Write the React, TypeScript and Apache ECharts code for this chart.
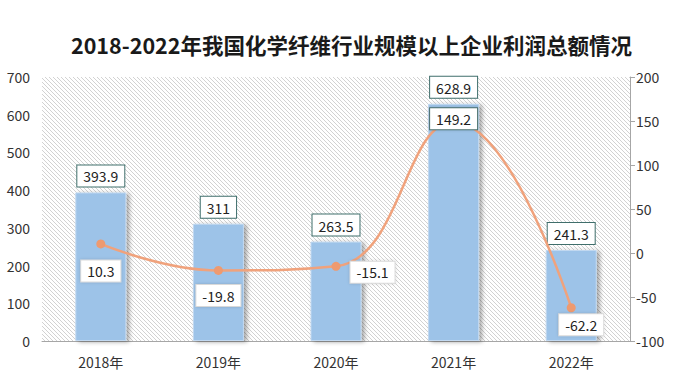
import React, { useEffect, useRef } from "react";
import * as echarts from "echarts";

const titleText = "2018-2022年我国化学纤维行业规模以上企业利润总额情况";
const categories = ["2018年", "2019年", "2020年", "2021年", "2022年"];
const profitValues = [393.9, 311, 263.5, 628.9, 241.3];
const growthValues = [10.3, -19.8, -15.1, 149.2, -62.2];
const leftTicks = { min: 0, max: 700, interval: 100 };
const rightTicks = { min: -100, max: 200, interval: 50 };

const FONT = '"Noto Sans CJK SC", "Noto Sans", sans-serif';

function makeHatch(): string {
  const c = document.createElement("canvas");
  const n = 4;
  c.width = n;
  c.height = n;
  const ctx = c.getContext("2d")!;
  ctx.fillStyle = "#ffffff";
  ctx.fillRect(0, 0, n, n);
  ctx.fillStyle = "#d2d2d2";
  for (let i = 0; i < n; i++) ctx.fillRect(i, i, 1, 1);
  return c.toDataURL();
}

export default function App() {
  const ref = useRef<HTMLDivElement>(null);
  useEffect(() => {
    if (!ref.current) return;
    const chart = echarts.init(ref.current, undefined, { renderer: "svg" });
    const hatch = makeHatch();
    const lineLabelPos: any[] = [
      { position: "bottom", distance: 12, offset: [0, 0] },
      { position: "bottom", distance: 10, offset: [0, 0] },
      { position: "right", distance: 10, offset: [0, 6] },
      { position: "inside", distance: 0, offset: [0, -3], borderColor: "#4a6f6c" },
      { position: "bottom", distance: 2, offset: [10, 0] },
    ];
    chart.setOption({
      animation: false,
      backgroundColor: "#ffffff",
      title: {
        text: titleText,
        left: 66,
        top: 29,
        textStyle: { fontFamily: FONT, fontSize: 21.5, fontWeight: "bold", color: "#1a1a1a" },
      },
      grid: {
        left: 42,
        right: 64,
        top: 77,
        bottom: 40,
        show: true,
        borderWidth: 0,
        backgroundColor: { image: hatch, repeat: "repeat", imageWidth: 4, imageHeight: 4 } as any,
      },
      xAxis: {
        type: "category",
        data: categories,
        axisLine: { lineStyle: { color: "#a6a6a6", width: 1 } },
        axisTick: { show: false },
        axisLabel: { margin: 14, fontFamily: FONT, fontSize: 14, color: "#333" },
      },
      yAxis: [
        {
          type: "value",
          ...leftTicks,
          axisLine: { show: false },
          axisTick: { show: false },
          splitLine: { show: false },
          axisLabel: { margin: 12, fontFamily: FONT, fontSize: 14, color: "#333" },
        },
        {
          type: "value",
          ...rightTicks,
          position: "right",
          axisLine: { show: true, lineStyle: { color: "#a6a6a6" } },
          axisTick: { show: true, length: 5, lineStyle: { color: "#a6a6a6" } },
          splitLine: { show: false },
          axisLabel: { margin: 6, fontFamily: FONT, fontSize: 14, color: "#333" },
        },
      ],
      series: [
        {
          type: "bar",
          yAxisIndex: 0,
          data: profitValues,
          barWidth: 51,
          itemStyle: {
            color: "#9dc3e8",
            borderColor: "#c2d9f1",
            borderWidth: 1,
            shadowColor: "rgba(0,0,0,0.35)",
            shadowBlur: 4,
            shadowOffsetX: 3,
            shadowOffsetY: 1,
          },
          label: {
            show: true,
            position: "top",
            distance: 6,
            fontFamily: FONT,
            fontSize: 14,
            color: "#222",
            backgroundColor: "#ffffff",
            borderColor: "#3f6e6b",
            borderWidth: 1,
            padding: [4, 6, 3, 6],
          },
        },
        {
          type: "line",
          yAxisIndex: 1,
          smooth: 0.45,
          symbol: "circle",
          symbolSize: 9,
          lineStyle: { color: "#f0a27c", width: 2.5 },
          itemStyle: { color: "#ee9a70" },
          data: growthValues.map((v, i) => ({
            value: v,
            label: {
              position: lineLabelPos[i].position,
              distance: lineLabelPos[i].distance,
              offset: lineLabelPos[i].offset,
              borderColor: lineLabelPos[i].borderColor || "#d9d9d9",
            },
          })),
          label: {
            show: true,
            fontFamily: FONT,
            fontSize: 14,
            color: "#222",
            backgroundColor: "#ffffff",
            borderWidth: 1,
            padding: [4, 6, 3, 6],
            shadowColor: "rgba(0,0,0,0.15)",
            shadowBlur: 3,
          },
          z: 5,
        },
      ],
    });
    return () => chart.dispose();
  }, []);
  return (
    <div
      ref={ref}
      style={{ position: "fixed", left: 0, top: 0, width: 694, height: 381, background: "#fff" }}
    />
  );
}
